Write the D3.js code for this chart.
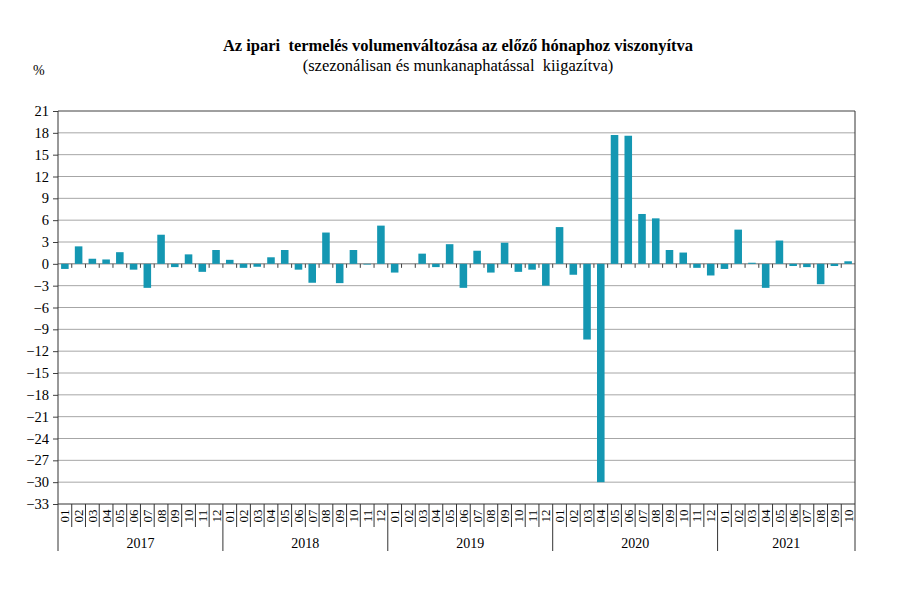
<!DOCTYPE html>
<html>
<head>
<meta charset="utf-8">
<script src="https://cdn.jsdelivr.net/npm/d3@7"></script>
<style>
  body { margin: 0; background: #fff; }
</style>
</head>
<body>
<div id="chart"></div>
<script>
// years and months shown on the category axis
var years = ["2017", "2018", "2019", "2020", "2021"];
var monthsPerYear = [12, 12, 12, 12, 10];
var monthLabels = ["01","02","03","04","05","06","07","08","09","10","11","12"];

// month-on-month change, % (2017-01 ... 2021-10)
var values2017 = [-0.7, 2.4, 0.7, 0.6, 1.6, -0.8, -3.3, 4.0, -0.45, 1.3, -1.1, 1.9];
var values2018 = [0.55, -0.55, -0.4, 0.9, 1.9, -0.8, -2.6, 4.3, -2.65, 1.9, -0.1, 5.25];
var values2019 = [-1.2, 0.0, 1.4, -0.45, 2.7, -3.3, 1.8, -1.2, 2.9, -1.1, -0.8, -3.0];
var values2020 = [5.05, -1.5, -10.4, -30.0, 17.7, 17.6, 6.85, 6.25, 1.9, 1.55, -0.55, -1.6];
var values2021 = [-0.7, 4.7, 0.15, -3.3, 3.2, -0.3, -0.45, -2.8, -0.3, 0.35];

var yTicks = d3.range(-33, 22, 3);

var data = [];
[values2017, values2018, values2019, values2020, values2021].forEach(function(arr, yi) {
  arr.forEach(function(v, mi) {
    data.push({ key: years[yi] + "-" + monthLabels[mi], year: years[yi], month: monthLabels[mi], value: v });
  });
});

var width = 899, height = 594;
var plotL = 58, plotR = 855, plotT = 111, plotB = 504;
var serif = "'Liberation Serif', 'Times New Roman', serif";

var svg = d3.select("#chart").append("svg")
  .attr("width", width)
  .attr("height", height)
  .attr("font-family", serif);

var x = d3.scaleBand()
  .domain(data.map(function(d) { return d.key; }))
  .range([plotL, plotR])
  .paddingInner(0.45)
  .paddingOuter(0.225);

var step = x.step();
var x0 = plotL;

var y = d3.scaleLinear().domain([-33, 21]).range([plotB, plotT]);

// gridlines
svg.append("g").selectAll("line")
  .data(yTicks.filter(function(t) { return t > -33; }))
  .enter().append("line")
  .attr("x1", plotL).attr("x2", plotR)
  .attr("y1", function(d) { return y(d); })
  .attr("y2", function(d) { return y(d); })
  .attr("stroke", function(d) { return d === 21 ? "#404040" : (d === 0 ? "#707070" : "#a6a6a6"); })
  .attr("stroke-width", 1);

// y axis
var yAxis = svg.append("g")
  .attr("transform", "translate(" + plotL + ",0)")
  .call(d3.axisLeft(y).tickValues(yTicks).tickSize(5).tickPadding(4)
    .tickFormat(function(d) { return d < 0 ? "\u2212" + Math.abs(d) : d; }));
yAxis.attr("font-family", serif).attr("font-size", 14.5);
yAxis.select(".domain").remove();
yAxis.selectAll(".tick line").attr("stroke", "#404040");
yAxis.selectAll("text").attr("fill", "#000");

// bars
svg.append("g").selectAll("rect")
  .data(data)
  .enter().append("rect")
  .attr("x", function(d) { return x(d.key); })
  .attr("width", x.bandwidth())
  .attr("y", function(d) { return y(Math.max(0, d.value)); })
  .attr("height", function(d) { return Math.abs(y(d.value) - y(0)); })
  .attr("fill", "#1497b2");

// small ticks under the zero line
svg.append("g").selectAll("line")
  .data(d3.range(1, data.length))
  .enter().append("line")
  .attr("x1", function(i) { return x0 + i * step; })
  .attr("x2", function(i) { return x0 + i * step; })
  .attr("y1", y(0)).attr("y2", y(0) + 4)
  .attr("stroke", "#404040");

// frame: left, right and bottom
svg.append("line").attr("x1", plotL).attr("x2", plotL).attr("y1", plotT).attr("y2", 551).attr("stroke", "#333");
svg.append("line").attr("x1", plotR).attr("x2", plotR).attr("y1", plotT).attr("y2", 551).attr("stroke", "#333");
svg.append("line").attr("x1", plotL).attr("x2", plotR).attr("y1", plotB).attr("y2", plotB).attr("stroke", "#333");

// month separators and labels
svg.append("g").selectAll("line")
  .data(d3.range(1, data.length))
  .enter().append("line")
  .attr("x1", function(i) { return x0 + i * step; })
  .attr("x2", function(i) { return x0 + i * step; })
  .attr("y1", plotB)
  .attr("y2", function(i) { return data[i].month === "01" ? 551 : 527; })
  .attr("stroke", "#333");

svg.append("g").selectAll("text")
  .data(data)
  .enter().append("text")
  .attr("transform", function(d) {
    return "translate(" + (x(d.key) + x.bandwidth() / 2 + 4.5) + ",516) rotate(-90)";
  })
  .attr("text-anchor", "middle")
  .attr("font-size", 13)
  .text(function(d) { return d.month; });

// year labels
var cum = 0;
var yearPos = years.map(function(yr, i) {
  var start = cum; cum += monthsPerYear[i];
  return { year: yr, mid: x0 + (start + cum) / 2 * step };
});
svg.append("g").selectAll("text")
  .data(yearPos)
  .enter().append("text")
  .attr("x", function(d) { return d.mid; })
  .attr("y", 548)
  .attr("text-anchor", "middle")
  .attr("font-size", 14)
  .text(function(d) { return d.year; });

// titles
svg.append("text").attr("x", 458).attr("y", 51).attr("text-anchor", "middle")
  .attr("font-size", 16.5).attr("font-weight", "bold")
  .style("white-space", "pre")
  .text("Az ipari  termelés volumenváltozása az előző hónaphoz viszonyítva");
svg.append("text").attr("x", 458).attr("y", 71).attr("text-anchor", "middle")
  .attr("font-size", 16.5)
  .style("white-space", "pre")
  .text("(szezonálisan és munkanaphatással  kiigazítva)");
svg.append("text").attr("x", 33).attr("y", 75)
  .attr("font-size", 14)
  .text("%");
</script>
</body>
</html>
